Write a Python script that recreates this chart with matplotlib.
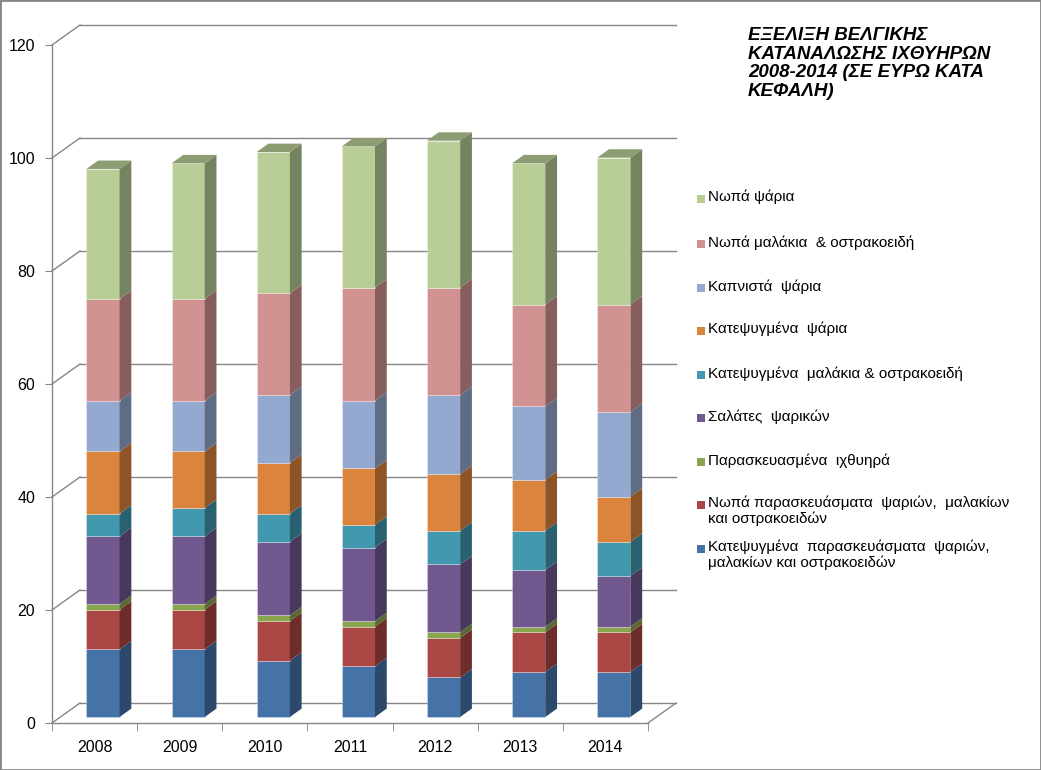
import numpy as np
import matplotlib
matplotlib.use("Agg")
import matplotlib.pyplot as plt
from matplotlib.patches import Rectangle, Polygon
from matplotlib.colors import to_rgb

plt.rcParams['font.family'] = ['Liberation Sans', 'DejaVu Sans']

# data (euro per head)
years = ['2008', '2009', '2010', '2011', '2012', '2013', '2014']
frozen_prep = [12, 12, 10, 9, 7, 8, 8]
fresh_prep = [7, 7, 7, 7, 7, 7, 7]
prepared_fish = [1, 1, 1, 1, 1, 1, 1]
fish_salads = [12, 12, 13, 13, 12, 10, 9]
frozen_shell = [4, 5, 5, 4, 6, 7, 6]
frozen_fish = [11, 10, 9, 10, 10, 9, 8]
smoked_fish = [9, 9, 12, 12, 14, 13, 15]
fresh_shell = [18, 18, 18, 20, 19, 18, 19]
fresh_fish = [23, 24, 25, 25, 26, 25, 26]

series = [frozen_prep, fresh_prep, prepared_fish, fish_salads, frozen_shell,
          frozen_fish, smoked_fish, fresh_shell, fresh_fish]
labels = ['Κατεψυγμένα  παρασκευάσματα  ψαριών,\nμαλακίων και οστρακοειδών',
          'Νωπά παρασκευάσματα  ψαριών,  μαλακίων\nκαι οστρακοειδών',
          'Παρασκευασμένα  ιχθυηρά',
          'Σαλάτες  ψαρικών',
          'Κατεψυγμένα  μαλάκια & οστρακοειδή',
          'Κατεψυγμένα  ψάρια',
          'Καπνιστά  ψάρια',
          'Νωπά μαλάκια  & οστρακοειδή',
          'Νωπά ψάρια']
colors = ['#4572A7', '#AA4643', '#89A54E', '#71588F', '#4198AF',
          '#DB843D', '#93A9CF', '#D19392', '#B9CD96']
title = 'ΕΞΕΛΙΞΗ ΒΕΛΓΙΚΗΣ\nΚΑΤΑΝΑΛΩΣΗΣ ΙΧΘΥΗΡΩΝ\n2008-2014 (ΣΕ ΕΥΡΩ ΚΑΤΑ\nΚΕΦΑΛΗ)'

W, H = 1041, 770
grid_c = '#868686'


def shade(c, k):
    r, g, b = to_rgb(c)
    return (r * k, g * k, b * k)


fig = plt.figure(figsize=(W / 100, H / 100), dpi=100)
ax = fig.add_axes([52 / W, 47 / H, 596 / W, 678 / H])
n = len(years)
ax.set_xlim(-0.5, n - 0.5)
ax.set_ylim(0, 120)

# pixel -> data conversion for the fake depth
pxc = 596 / n
pxv = 678 / 120
DX, DY = 28 / pxc, 20 / pxv

# back wall gridlines + left diagonals
for v in range(0, 121, 20):
    ax.plot([-0.5 + DX, n - 0.5 + DX], [v + DY, v + DY], color=grid_c, lw=1, clip_on=False, zorder=1)
    ax.plot([-0.5, -0.5 + DX], [v, v + DY], color=grid_c, lw=1, clip_on=False, zorder=1)
ax.plot([n - 0.5, n - 0.5 + DX], [0, DY], color=grid_c, lw=1, clip_on=False, zorder=1)

# bars
f0, f1 = 0.3, 0.72
bw = 0.39
ddx, ddy = (f1 - f0) * DX, (f1 - f0) * DY
for i in range(n):
    x0 = i - bw / 2 + f0 * DX
    base = f0 * DY
    for s, vals in enumerate(series):
        y0, y1 = base, base + vals[i]
        c = colors[s]
        ax.add_patch(Rectangle((x0, y0), bw, vals[i], facecolor=c,
                               edgecolor=(1, 1, 1, 0.35), lw=0.6, zorder=3, clip_on=False))
        ax.add_patch(Polygon([(x0 + bw, y0), (x0 + bw + ddx, y0 + ddy),
                              (x0 + bw + ddx, y1 + ddy), (x0 + bw, y1)],
                             closed=True, facecolor=shade(c, 0.64), edgecolor='none',
                             zorder=3, clip_on=False))
        base = y1
    ax.add_patch(Polygon([(x0, base), (x0 + bw, base), (x0 + bw + ddx, base + ddy),
                          (x0 + ddx, base + ddy)], closed=True,
                         facecolor=shade(colors[-1], 0.76), edgecolor='none',
                         zorder=3, clip_on=False))

# axes styling
for sp in ['top', 'right']:
    ax.spines[sp].set_visible(False)
for sp in ['left', 'bottom']:
    ax.spines[sp].set_color(grid_c)
    ax.spines[sp].set_linewidth(1)
ax.set_yticks(range(0, 121, 20))
ax.tick_params(axis='y', direction='out', length=5, color=grid_c, pad=7, labelsize=11.5)
ax.set_xticks(range(n))
ax.set_xticklabels(years)
ax.set_xticks(np.arange(-0.5, n, 1), minor=True)
ax.tick_params(axis='x', which='major', length=0, pad=12, labelsize=11.5)
ax.tick_params(axis='x', which='minor', direction='out', length=6, color=grid_c)
ax.patch.set_alpha(0)

# title
fig.text(748 / W, 1 - 27 / H, title, ha='left', va='top', fontsize=13.5,
         fontweight='bold', fontstyle='italic', linespacing=1.12)

# legend (top entry first)
legend_y = [199, 244, 288, 331, 375, 418, 462, 505, 549]
for k, s in enumerate(reversed(range(len(series)))):
    yc = legend_y[k]
    fig.add_artist(Rectangle((697 / W, 1 - (yc + 4) / H), 8 / W, 8 / H,
                             facecolor=colors[s], edgecolor='none',
                             transform=fig.transFigure))
    fig.text(708 / W, 1 - (yc - 9) / H, labels[s], ha='left', va='top',
             fontsize=11, linespacing=1.1)

# chart border
fig.add_artist(Rectangle((0, 0), 1, 1, fill=False, edgecolor=grid_c, lw=2,
                         transform=fig.transFigure))

fig.savefig('out.png', dpi=100)
